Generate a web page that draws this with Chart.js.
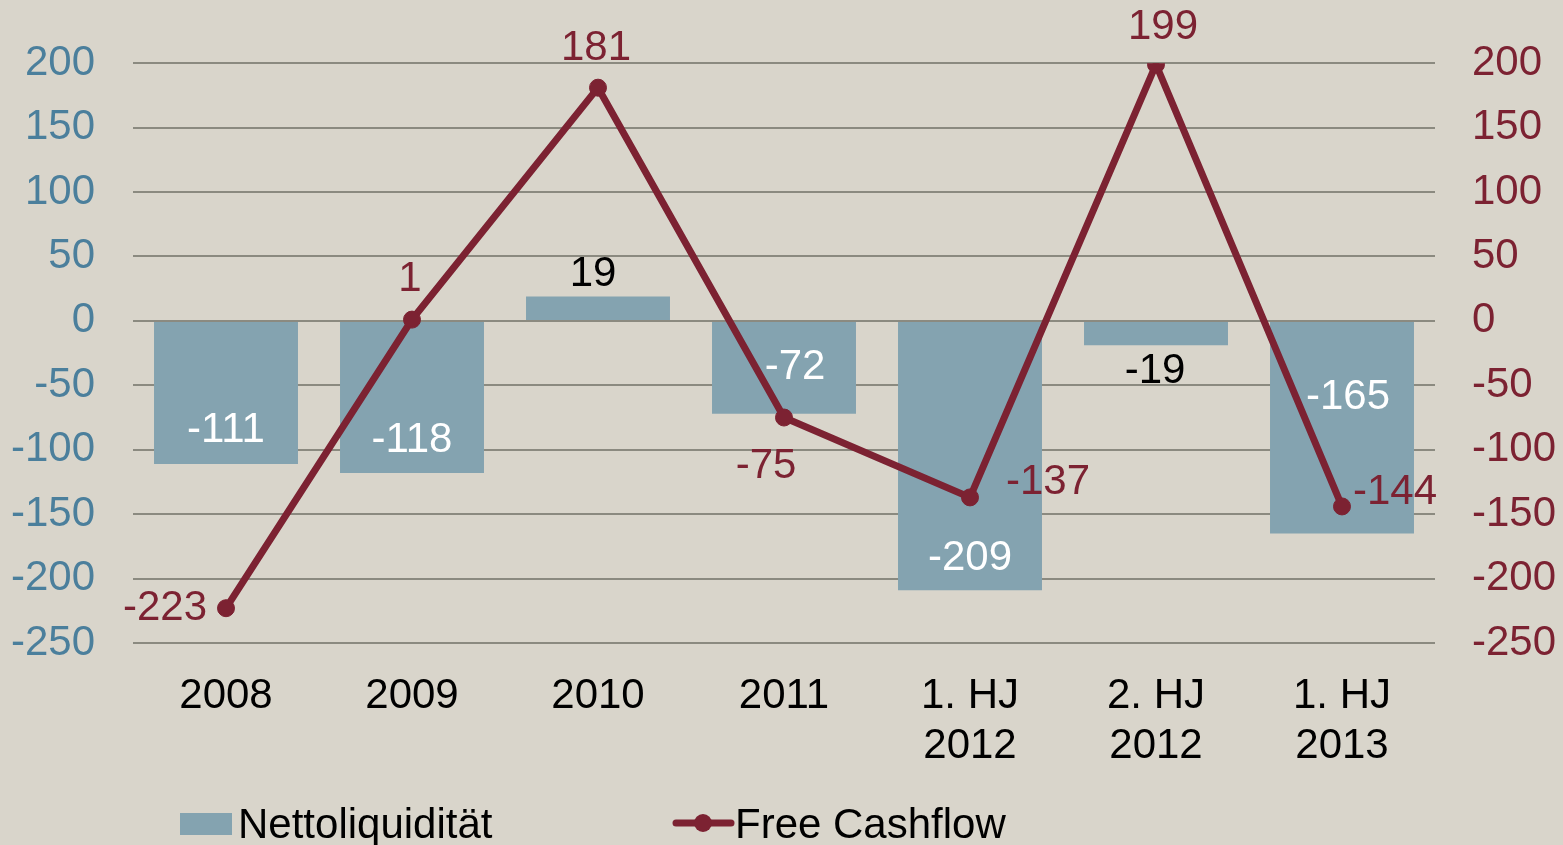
<!DOCTYPE html>
<html>
<head>
<meta charset="utf-8">
<script src="https://cdn.jsdelivr.net/npm/chart.js@4/dist/chart.umd.min.js"></script>
<style>
  html, body { margin: 0; padding: 0; background: #d9d5cb; }
  #wrap { width: 1563px; height: 845px; }
</style>
</head>
<body>
<div id="wrap"><canvas id="c" width="1563" height="845"></canvas></div>
<script>
const categories = ["2008", "2009", "2010", "2011", ["1. HJ", "2012"], ["2. HJ", "2012"], ["1. HJ", "2013"]];
const nettoliquiditaet = [-111, -118, 19, -72, -209, -19, -165];
const freeCashflow = [-223, 1, 181, -75, -137, 199, -144];
const tickValues = [200, 150, 100, 50, 0, -50, -100, -150, -200, -250];

const FONT = '"Liberation Sans", Arial, sans-serif';
const FS = 42;
const BAR = "#84a3b0";
const LINE = "#7c2232";
const BLUE = "#4b7f9c";

// label placement relative to each mark end (dx, dy in px)
const barLabelOffset = [[0, -33], [0, -33], [-5, -22], [11, -46], [0, -32], [-1, 26], [6, -136]];
const barLabelColor = ["#fff", "#fff", "#000", "#fff", "#fff", "#000", "#fff"];
const lineLabelOffset = [[-61, 0], [-2, -40], [-2, -39], [-18, 49], [78, -15], [7, -37], [53, -14]];

const labelPlugin = {
  id: "labels",
  afterDatasetsDraw(chart) {
    const ctx = chart.ctx;
    ctx.save();
    ctx.font = FS + "px " + FONT;
    ctx.textAlign = "center";
    ctx.textBaseline = "middle";
    chart.getDatasetMeta(0).data.forEach((el, i) => {
      ctx.fillStyle = barLabelColor[i];
      ctx.fillText(String(nettoliquiditaet[i]), el.x + barLabelOffset[i][0], el.y + barLabelOffset[i][1]);
    });
    ctx.fillStyle = LINE;
    chart.getDatasetMeta(1).data.forEach((el, i) => {
      ctx.fillText(String(freeCashflow[i]), el.x + lineLabelOffset[i][0], el.y + lineLabelOffset[i][1]);
    });
    // legend
    ctx.textAlign = "left";
    ctx.fillStyle = BAR;
    ctx.fillRect(180, 813, 52, 22);
    ctx.fillStyle = "#000";
    ctx.fillText("Nettoliquidität", 238, 826);
    ctx.strokeStyle = LINE;
    ctx.lineWidth = 7;
    ctx.lineCap = "round";
    ctx.beginPath();
    ctx.moveTo(676, 823);
    ctx.lineTo(731, 823);
    ctx.stroke();
    ctx.fillStyle = LINE;
    ctx.beginPath();
    ctx.arc(703, 823, 9, 0, Math.PI * 2);
    ctx.fill();
    ctx.fillStyle = "#000";
    ctx.fillText("Free Cashflow", 735, 826);
    ctx.restore();
  }
};

new Chart(document.getElementById("c"), {
  type: "bar",
  data: {
    labels: categories,
    datasets: [
      {
        label: "Nettoliquidität",
        data: nettoliquiditaet,
        backgroundColor: BAR,
        barPercentage: 0.774,
        categoryPercentage: 1,
        yAxisID: "y",
        order: 2,
      },
      {
        type: "line",
        label: "Free Cashflow",
        data: freeCashflow,
        borderColor: LINE,
        backgroundColor: LINE,
        borderWidth: 7,
        pointRadius: 8.5,
        pointBorderWidth: 1,
        pointHoverRadius: 8.5,
        tension: 0,
        yAxisID: "y1",
        order: 1,
      },
    ],
  },
  options: {
    responsive: false,
    animation: false,
    layout: { padding: { top: 63, left: 0, right: 0, bottom: 0 } },
    plugins: {
      legend: { display: false },
      tooltip: { enabled: false },
    },
    scales: {
      x: {
        grid: { display: false, drawTicks: false },
        border: { display: false },
        ticks: { color: "#000", font: { family: FONT, size: FS }, padding: 28, maxRotation: 0 },
        afterFit(s) { s.height = 202; },
      },
      y: {
        position: "left",
        min: -250,
        max: 200,
        afterBuildTicks(s) { s.ticks = tickValues.map(v => ({ value: v })); },
        grid: { color: "#8b8a80", lineWidth: 2, drawTicks: false },
        border: { display: false },
        ticks: { color: BLUE, font: { family: FONT, size: FS }, padding: 38 },
        afterFit(s) { s.width = 133; },
      },
      y1: {
        position: "right",
        min: -250,
        max: 200,
        afterBuildTicks(s) { s.ticks = tickValues.map(v => ({ value: v })); },
        grid: { display: false, drawTicks: false },
        border: { display: false },
        ticks: { color: LINE, font: { family: FONT, size: FS }, padding: 37 },
        afterFit(s) { s.width = 128; },
      },
    },
  },
  plugins: [labelPlugin],
});
</script>
</body>
</html>
